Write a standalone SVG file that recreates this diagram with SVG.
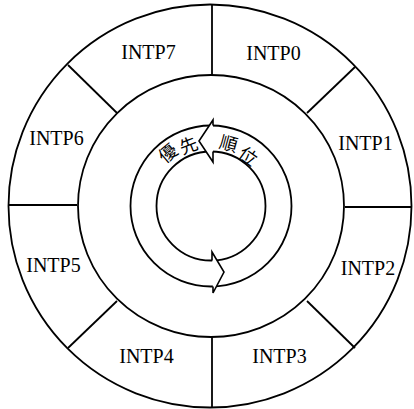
<svg xmlns="http://www.w3.org/2000/svg" width="414" height="409" viewBox="0 0 414 409">
<style>
.ln{fill:none;stroke:#000;stroke-width:1.8}
.lbl{font-family:"Liberation Serif","DejaVu Serif",serif;font-size:20px;text-anchor:middle;fill:#000}
.jp{font-family:"Noto Sans CJK JP","Noto Sans CJK SC",sans-serif;font-size:18px;text-anchor:middle;dominant-baseline:central;fill:#000}
.arr{fill:none;stroke:#000;stroke-width:1.6;stroke-linejoin:miter}
</style>
<rect width="414" height="409" fill="#fff"/>
<g id="rings">
<circle cx="210" cy="206" r="201.5" class="ln" stroke-width="2.4"/>
<ellipse cx="211" cy="206" rx="133" ry="131" class="ln"/>
</g>
<g id="connectors">
<line class="ln" x1="212" y1="5" x2="212" y2="75"/>
<line class="ln" x1="355" y1="67" x2="307" y2="113"/>
<line class="ln" x1="345" y1="207" x2="411" y2="207"/>
<line class="ln" x1="307" y1="301" x2="355" y2="348"/>
<line class="ln" x1="212" y1="337" x2="212" y2="407"/>
<line class="ln" x1="117" y1="301" x2="68" y2="348"/>
<line class="ln" x1="8" y1="205" x2="77" y2="205"/>
<line class="ln" x1="68" y1="65" x2="117" y2="113"/>
</g>
<g id="INTP0"><text class="lbl" x="273.5" y="60">INTP0</text></g>
<g id="INTP1"><text class="lbl" x="365.5" y="150">INTP1</text></g>
<g id="INTP2"><text class="lbl" x="368" y="275">INTP2</text></g>
<g id="INTP3"><text class="lbl" x="279.5" y="363">INTP3</text></g>
<g id="INTP4"><text class="lbl" x="146.5" y="363">INTP4</text></g>
<g id="INTP5"><text class="lbl" x="53.5" y="272">INTP5</text></g>
<g id="INTP6"><text class="lbl" x="56.5" y="145">INTP6</text></g>
<g id="INTP7"><text class="lbl" x="148.5" y="59">INTP7</text></g>
<g id="priority">
<circle cx="211" cy="206" r="80.5" class="ln" stroke-width="1.6"/>
<circle cx="211" cy="206" r="54.5" class="ln" stroke-width="1.6"/>
<polygon points="213,120 199,141 213,162" fill="#fff"/>
<path class="arr" d="M213,125.5 L213,120 L199,141 L213,162 L213,151.5"/>
<polygon points="212,252 224,272 213,293" fill="#fff"/>
<path class="arr" d="M212,260.5 L212,252 L224,272 L213,293 L213,286.5"/>
<text class="jp" transform="translate(167,152) rotate(-40)">優</text>
<text class="jp" transform="translate(188,144) rotate(-21)">先</text>
<text class="jp" transform="translate(229,142) rotate(15)">順</text>
<text class="jp" transform="translate(249,155) rotate(36)">位</text>
</g>
</svg>
